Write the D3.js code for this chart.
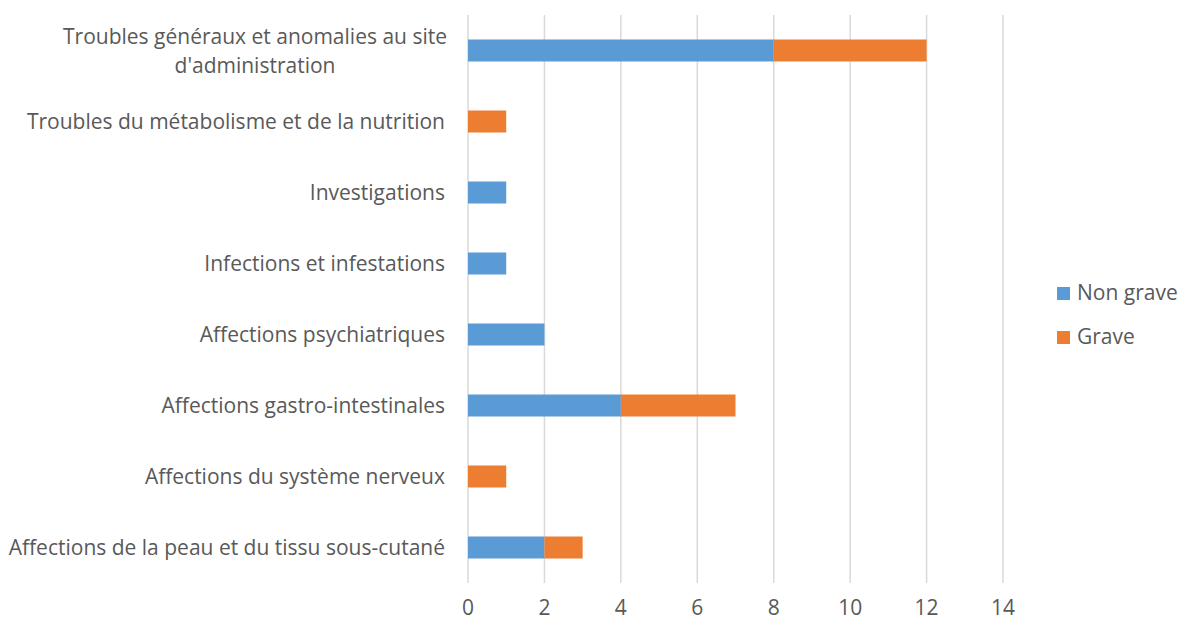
<!DOCTYPE html>
<html lang="fr">
<head>
<meta charset="UTF-8" />
<title>Effets indésirables</title>
<script src="https://d3js.org/d3.v7.min.js"></script>
<style>
  body { margin: 0; background: #fff; font-family: "Open Sans", sans-serif; }
  svg { display: block; }
  .grid line { stroke: #d9d9d9; stroke-width: 1.5px; }
  text { fill: #595959; }
</style>
</head>
<body>
<svg width="1180" height="625"></svg>
<script>
const categories = [
  "Troubles généraux et anomalies au site d'administration",
  "Troubles du métabolisme et de la nutrition",
  "Investigations",
  "Infections et infestations",
  "Affections psychiatriques",
  "Affections gastro-intestinales",
  "Affections du système nerveux",
  "Affections de la peau et du tissu sous-cutané"
];
const nonGrave = [8, 0, 1, 1, 2, 4, 0, 2];
const grave = [4, 1, 0, 0, 0, 3, 1, 1];
const seriesNames = ["Non grave", "Grave"];
const colors = ["#5b9bd5", "#ed7d31"];
const xTicks = [0, 2, 4, 6, 8, 10, 12, 14];

const rows = categories.map((c, i) => ({ cat: c, "Non grave": nonGrave[i], "Grave": grave[i] }));

const svg = d3.select("svg");
const x = d3.scaleLinear().domain([0, 14]).range([468, 1003]);
const y = d3.scaleBand().domain(categories).range([15, 583]).paddingInner(0.69).paddingOuter(0.345);

// gridlines
svg.append("g").attr("class", "grid")
  .selectAll("line").data(xTicks).join("line")
  .attr("x1", d => x(d)).attr("x2", d => x(d))
  .attr("y1", 15).attr("y2", 583);

const stack = d3.stack().keys(seriesNames)(rows);

svg.append("g").selectAll("g").data(stack).join("g")
  .attr("fill", (d, i) => colors[i])
  .selectAll("rect").data(d => d).join("rect")
  .attr("x", d => x(d[0]))
  .attr("width", d => x(d[1]) - x(d[0]))
  .attr("y", d => y(d.data.cat))
  .attr("height", y.bandwidth());

// category labels
const labels = svg.append("g").attr("font-size", 21).attr("text-anchor", "end");
categories.forEach(c => {
  const cy = y(c) + y.bandwidth() / 2;
  const t = labels.append("text").attr("x", 445);
  if (c.length > 50) {
    t.attr("text-anchor", "middle").attr("x", 255);
    t.append("tspan").attr("x", 255).attr("y", cy - 14).attr("dy", "0.35em").text("Troubles généraux et anomalies au site");
    t.append("tspan").attr("x", 255).attr("y", cy + 15).attr("dy", "0.35em").text("d'administration");
  } else {
    t.attr("y", cy).attr("dy", "0.35em").text(c);
  }
});

// x axis labels
svg.append("g").attr("font-size", 21).attr("text-anchor", "middle")
  .selectAll("text").data(xTicks).join("text")
  .attr("x", d => x(d)).attr("y", 608).attr("dy", "0.35em")
  .text(d => d);

// legend
const legend = svg.append("g").attr("font-size", 21);
seriesNames.forEach((s, i) => {
  const ly = 293 + i * 44;
  legend.append("rect").attr("x", 1057).attr("y", ly - 6).attr("width", 13).attr("height", 13).attr("fill", colors[i]);
  legend.append("text").attr("x", 1077).attr("y", ly).attr("dy", "0.35em").text(s);
});
</script>
</body>
</html>
